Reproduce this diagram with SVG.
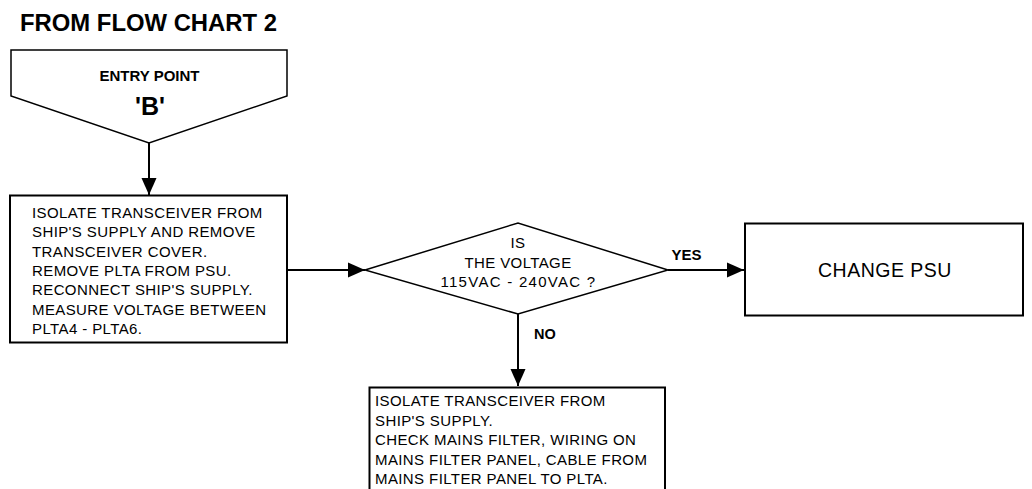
<svg xmlns="http://www.w3.org/2000/svg" width="1032" height="489" viewBox="0 0 1032 489">
<style>
text{font-family:"Liberation Sans",Arial,Helvetica,sans-serif;fill:#000}
.t{font-size:15px;letter-spacing:0.4px}
.b{font-weight:bold}
.shape{fill:#fff;stroke:#000;stroke-width:1.5}
.box{fill:#fff;stroke:#000;stroke-width:2}
.conn{fill:none;stroke:#000;stroke-width:2}
</style>
<defs>
<marker id="arr" markerUnits="userSpaceOnUse" markerWidth="18" markerHeight="16" refX="17" refY="8" orient="auto">
<path d="M0,0.5 L17,8 L0,15.5 z" fill="#000"/>
</marker>
</defs>
<rect width="1032" height="489" fill="#fff"/>
<text id="title" x="20" y="31" class="b" font-size="23" textLength="257" lengthAdjust="spacingAndGlyphs">FROM FLOW CHART 2</text>
<g id="entry">
<path class="shape" d="M11,50 L287,50 L287,96 L149,143 L11,96 Z"/>
<text x="149.5" y="81" class="b" font-size="15" text-anchor="middle">ENTRY POINT</text>
<text x="150" y="115" class="b" font-size="25" text-anchor="middle">'B'</text>
</g>
<g id="box1">
<rect class="box" x="10" y="195.5" width="277" height="147"/>
<text class="t" x="32" y="218">ISOLATE TRANSCEIVER FROM</text>
<text class="t" x="32" y="237.3">SHIP'S SUPPLY AND REMOVE</text>
<text class="t" x="32" y="256.6">TRANSCEIVER COVER.</text>
<text class="t" x="32" y="275.9">REMOVE PLTA FROM PSU.</text>
<text class="t" x="32" y="295.2">RECONNECT SHIP'S SUPPLY.</text>
<text class="t" x="32" y="314.5">MEASURE VOLTAGE BETWEEN</text>
<text class="t" x="32" y="333.5">PLTA4 - PLTA6.</text>
</g>
<g id="decision">
<path class="shape" d="M365,270 L518,223 L668,270 L518,314 Z"/>
<text class="t" x="518" y="247.5" text-anchor="middle">IS</text>
<text class="t" x="518" y="267.5" text-anchor="middle">THE VOLTAGE</text>
<text class="t" x="518" y="287.3" text-anchor="middle" textLength="155">115VAC - 240VAC ?</text>
</g>
<g id="changepsu">
<rect class="box" x="745" y="223.5" width="278" height="92"/>
<text x="885" y="277" font-size="19.5" letter-spacing="0.5" text-anchor="middle">CHANGE PSU</text>
</g>
<g id="box3">
<rect class="box" x="369.5" y="387.5" width="295.5" height="110"/>
<text class="t" x="375" y="406">ISOLATE TRANSCEIVER FROM</text>
<text class="t" x="375" y="425.6">SHIP'S SUPPLY.</text>
<text class="t" x="375" y="445.2">CHECK MAINS FILTER, WIRING ON</text>
<text class="t" x="375" y="464.7">MAINS FILTER PANEL, CABLE FROM</text>
<text class="t" x="375" y="484.3">MAINS FILTER PANEL TO PLTA.</text>
</g>
<g id="connectors">
<path class="conn" d="M149,143 L149,195" marker-end="url(#arr)"/>
<path class="conn" d="M287,270 L365,270" marker-end="url(#arr)"/>
<path class="conn" d="M668,270 L744,270" marker-end="url(#arr)"/>
<path class="conn" d="M518,314 L518,386" marker-end="url(#arr)"/>
<text x="671.5" y="260" class="b" font-size="15">YES</text>
<text x="534" y="339.3" class="b" font-size="14.5">NO</text>
</g>
</svg>
